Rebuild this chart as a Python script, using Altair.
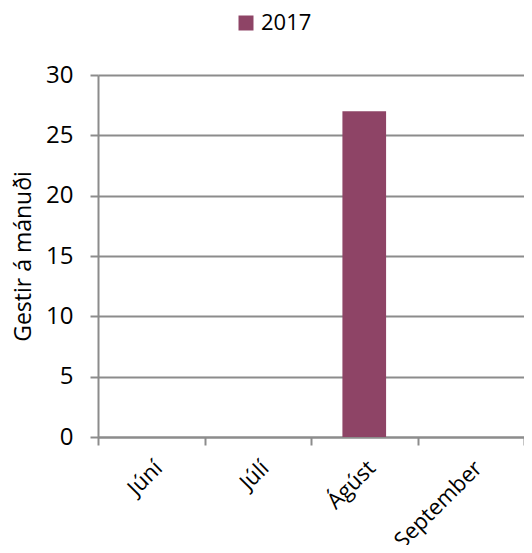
import altair as alt
import pandas as pd

months = ["Júní", "Júlí", "Ágúst", "September"]
values_2017 = [0, 0, 27, 0]
series = "2017"
y_ticks = [0, 5, 10, 15, 20, 25, 30]

df = pd.DataFrame({"Mánuður": months, "Gestir": values_2017, "Ár": [series] * len(months)})

FONT = "Open Sans"
GRAY = "#8c8c8c"
BAR = "#8E4466"

chart = alt.Chart(df).mark_bar(color=BAR, width=alt.RelativeBandSize(0.41)).encode(
    x=alt.X("Mánuður:N", sort=months,
            scale=alt.Scale(paddingInner=0, paddingOuter=0),
            axis=alt.Axis(title=None, labelAngle=-45, labelAlign="right", labelBaseline="top",
                          labelFont=FONT, labelFontSize=22, labelColor="#000000",
                          domainColor=GRAY, domainWidth=2, tickColor=GRAY, tickWidth=2,
                          tickSize=8, tickBand="extent", labelPadding=12, grid=False)),
    y=alt.Y("Gestir:Q", scale=alt.Scale(domain=[0, 30], nice=False),
            axis=alt.Axis(title="Gestir á mánuði", values=y_ticks, titleFont=FONT,
                          titleFontSize=23, titleFontWeight="normal", titleColor="#000000",
                          titlePadding=10,
                          labelFont=FONT, labelFontSize=24, labelColor="#000000", labelPadding=17,
                          domainColor=GRAY, domainWidth=2, tickColor=GRAY, tickWidth=2, tickSize=8,
                          gridColor=GRAY, gridWidth=2)),
    color=alt.Color("Ár:N", scale=alt.Scale(domain=[series], range=[BAR]),
                    legend=alt.Legend(title=None, orient="none", legendX=137, legendY=-63,
                                      symbolType="square", symbolSize=225, symbolStrokeWidth=0,
                                      labelFont=FONT, labelFontSize=22, labelColor="#000000")),
).properties(
    width=426, height=362,
    autosize=alt.AutoSizeParams(type="none"),
    padding={"left": 90, "top": 67, "right": 0, "bottom": 108},
).configure_view(stroke=None)

chart.save("out.html", embed_options={"renderer": "svg", "actions": False})
